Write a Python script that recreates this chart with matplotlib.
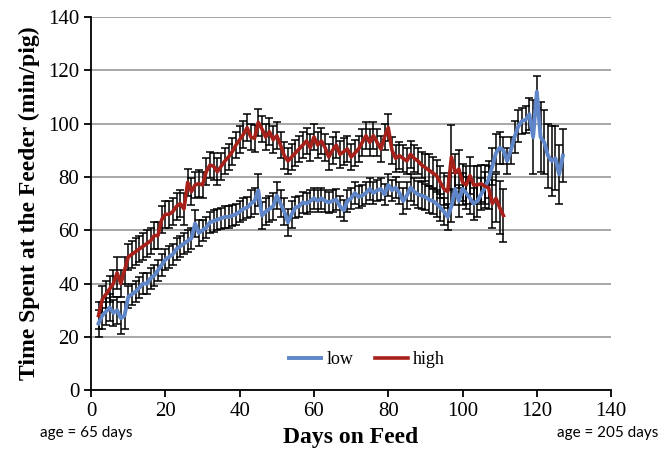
import numpy as np
import matplotlib
matplotlib.use("Agg")
import matplotlib.pyplot as plt

# days on feed
low_days = list(range(2, 128))
high_days = list(range(2, 112))

# mean time at feeder (min/pig)
low_mean = [25, 28, 29.5, 31, 29, 30, 27, 28, 35,
            36, 37, 38.5, 40, 40, 42, 43, 45, 47, 49,
            50, 51, 53, 54, 55, 56, 57, 62.5, 59, 60,
            61, 63, 63.5, 64, 64.5, 65, 65, 65.5, 66, 67,
            68, 68.5, 70, 71, 75, 65.5, 67, 68, 69, 73,
            70, 67, 63, 66, 68.5, 69, 70.5, 70, 71, 72,
            71, 72, 71, 70.5, 71, 71.5, 69, 67.5, 71, 72,
            74, 72.5, 73, 74, 75.5, 74, 75, 75.5, 73.5, 77,
            75, 76, 74, 71, 73, 76, 74.5, 73.5, 73, 72.5,
            71.5, 71, 70, 68.5, 67, 65, 69, 75.5, 71, 75.5,
            74, 72, 70, 71, 73.5, 76, 79, 84, 89, 91,
            90, 86, 90, 95, 99, 101, 101.5, 103.5, 95, 112,
            95, 93, 88, 86, 87, 81, 88]
low_err = [5, 5, 5, 5, 5, 5, 6, 5, 4,
           4, 4, 4, 4, 4, 4, 4, 4, 4, 4,
           4, 4, 4, 4, 4, 4, 4, 5, 5, 4,
           4, 4, 4, 4, 4, 4, 4, 4, 4, 4,
           4, 4, 5, 5, 6, 5, 5, 5, 5, 5,
           5, 5, 5, 5, 4, 4, 4, 4, 4, 4,
           4, 4, 4, 4, 4, 4, 4, 4, 4, 4,
           4, 4, 4, 4, 4, 4, 4, 4, 4, 4,
           4, 4, 4, 5, 5, 5, 5, 5, 5, 5,
           5, 5, 5, 5, 5, 5, 6, 6, 6, 6,
           6, 6, 6, 6, 6, 6, 7, 7, 7, 6,
           5, 5, 5, 6, 6, 5, 5, 6, 14, 6,
           13, 12, 12, 13, 12, 11, 10]

high_mean = [28, 34, 36, 38, 40, 44, 40, 45, 50,
             51, 52, 53, 54, 55, 56, 58, 58, 64, 66,
             66, 67, 69, 70, 68, 78, 74.5, 77, 77.5, 77,
             82, 84.5, 84, 82, 84, 86, 87.5, 89.5, 92, 94,
             96, 98.5, 95, 94.5, 100.5, 98, 95, 97, 94, 95.5,
             92, 88, 86, 87.5, 89, 90.5, 92, 93.5, 91, 95,
             92, 93.5, 91, 87.5, 90, 92, 88.5, 89.5, 90.5, 87.5,
             89, 90.5, 93, 95.5, 93, 95.5, 93, 90.5, 95, 98.5,
             90, 87, 88, 87, 86, 88.5, 87, 86, 84.5, 83.5,
             82.5, 81.5, 80.5, 78, 75.5, 74.5, 87.5, 81.5, 83, 78,
             77, 80.5, 77, 77, 77.5, 76.5, 76, 70, 72, 68.5,
             65.5]
high_err = [5, 5, 5, 5, 5, 6, 5, 5, 5,
            5, 5, 5, 5, 5, 5, 5, 5, 5, 5,
            5, 5, 5, 5, 6, 5, 5, 5, 5, 5,
            5, 5, 5, 5, 5, 5, 5, 5, 5, 5,
            5, 5, 5, 5, 5, 5, 5, 5, 5, 5,
            5, 5, 5, 5, 5, 5, 5, 5, 5, 5,
            5, 5, 5, 5, 5, 5, 5, 5, 5, 5,
            5, 5, 5, 5, 5, 5, 5, 5, 5, 5,
            5, 5, 5, 5, 5, 5, 5, 5, 5, 5,
            6, 6, 6, 6, 6, 6, 12, 7, 7, 7,
            7, 7, 7, 7, 7, 8, 8, 9, 9, 10,
            10]

serif = ['Liberation Serif', 'DejaVu Serif']
plt.rcParams['font.family'] = serif

fig = plt.figure(figsize=(6.65, 4.5), dpi=100)
ax = fig.add_axes([0.137, 0.133, 0.782, 0.829])

ax.errorbar(low_days, low_mean, yerr=low_err, fmt='none', ecolor='black',
            elinewidth=1.1, capsize=3, capthick=1.1, zorder=2)
ax.errorbar(high_days, high_mean, yerr=high_err, fmt='none', ecolor='black',
            elinewidth=1.1, capsize=3, capthick=1.1, zorder=2)
ax.plot(low_days, low_mean, color='#5f86c8', lw=2.8, label='low', zorder=3)
ax.plot(high_days, high_mean, color='#a8201a', lw=2.6, label='high', zorder=4)

ax.set_xlim(0, 140)
ax.set_ylim(0, 140)
ax.set_xticks(np.arange(0, 141, 20))
ax.set_yticks(np.arange(0, 141, 20))
ax.yaxis.grid(True, color='#a0a0a0', lw=1.3)
ax.set_axisbelow(True)
for s in ['top', 'right']:
    ax.spines[s].set_visible(False)
ax.spines['left'].set_linewidth(1.3)
ax.spines['bottom'].set_linewidth(1.3)
ax.tick_params(axis='both', labelsize=15, width=1.3, length=5, direction='out')

ax.set_ylabel('Time Spent at the Feeder (min/pig)', fontsize=17,
              fontweight='bold', labelpad=6)
ax.set_xlabel('Days on Feed', fontsize=17, fontweight='bold', labelpad=4)

ax.legend(loc='lower center', bbox_to_anchor=(0.53, 0.015), ncol=2,
          frameon=False, fontsize=13, handlelength=1.8, handletextpad=0.3,
          columnspacing=1.2)

fig.text(0.06, 0.03, 'age = 65 days', fontsize=11,
         family=['Lato', 'DejaVu Sans'])
fig.text(0.838, 0.03, 'age = 205 days', fontsize=11,
         family=['Lato', 'DejaVu Sans'])

fig.savefig('out.png', dpi=100)
